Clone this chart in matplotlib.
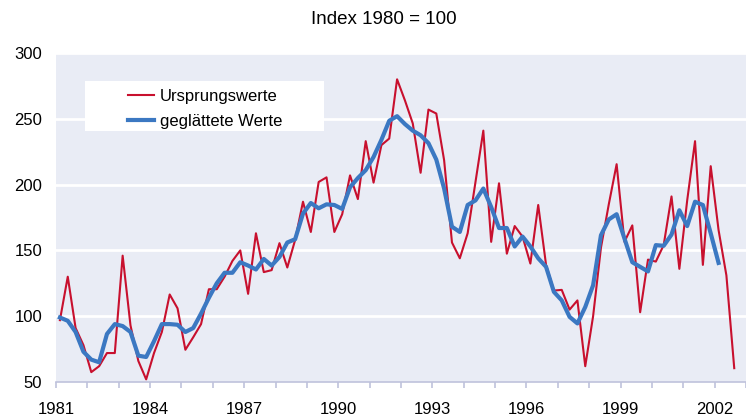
import numpy as np
import matplotlib
matplotlib.use("Agg")
import matplotlib.pyplot as plt
from matplotlib.patches import Rectangle
from matplotlib.ticker import MultipleLocator

plt.rcParams['font.family'] = ['Liberation Sans', 'DejaVu Sans']

# quarterly values, first quarter 1981 onwards
ursprung = [97, 130, 91, 78, 57.5, 62, 72, 72, 146, 93, 66, 52,
            72, 88, 116.5, 106, 74.5, 84, 94, 120.5, 120.5, 130, 142, 150,
            117, 163, 133.5, 135, 155.5, 137, 158, 187, 164, 202, 205.5, 164,
            177.5, 207, 189, 233, 201.5, 230, 235, 280, 264, 246.5, 209, 257,
            254, 218.5, 156, 144, 163, 202, 241, 156.5, 201, 147.5, 168.5, 160.5,
            140, 184.5, 139, 119.5, 120, 105, 112, 62, 100, 152, 185, 215.5,
            156.5, 169, 103, 143, 141.5, 154, 191, 136, 188, 233, 139, 214,
            165.5, 131, 60.5]
geglaettet = [99, 96.5, 88, 73, 67, 65, 86.5, 94, 92.5, 88, 70, 69,
              81, 94, 94, 93.5, 88, 91, 102, 114, 125, 133, 133, 141,
              138.5, 135.5, 143.5, 138.5, 145, 156, 158.5, 178, 186, 182, 185, 184.5,
              181.5, 198, 205, 211, 221, 234, 248.5, 252, 246, 241, 237.5, 231.5,
              219, 197, 168, 164, 184.5, 188, 197, 183, 167, 167, 153, 160.5,
              153, 144, 137.5, 118.5, 112, 99.5, 94.5, 107, 123.5, 161.5, 173.5, 177.5,
              159, 141, 137.5, 134, 154, 153.5, 162, 180.5, 168.5, 187, 184.5, 163,
              140.5]
start_year = 1981
year_labels = list(range(1981, 2003, 3))
y_ticks = [50, 100, 150, 200, 250, 300]

# points sit in the middle of each quarter
x_red = start_year + 0.125 + 0.25 * np.arange(len(ursprung))
x_blue = start_year + 0.125 + 0.25 * np.arange(len(geglaettet))

fig = plt.figure(figsize=(7.46, 4.19), dpi=100)
ax = fig.add_axes([56 / 746, 1 - 382 / 419, 690 / 746, 329 / 419])
ax.set_facecolor('#E9ECF5')

ax.set_xlim(1981, 2003)
ax.set_ylim(50, 300)
ax.set_yticks(y_ticks)
for v in y_ticks[1:]:
    ax.axhline(v, color='white', lw=2.0, zorder=1)

ax.plot(x_red, ursprung, color='#C8102E', lw=1.5, zorder=3, label='Ursprungswerte')
ax.plot(x_blue, geglaettet, color='#3B78C2', lw=3.0, zorder=4,
        solid_joinstyle='round', label='geglättete Werte')

for s in ['top', 'right', 'left']:
    ax.spines[s].set_visible(False)
ax.spines['bottom'].set_color('#BFC2DC')
ax.spines['bottom'].set_linewidth(1.2)

ax.set_xticks(year_labels)
ax.set_xticklabels([str(y) for y in year_labels])
ax.xaxis.set_minor_locator(MultipleLocator(1))
ax.tick_params(axis='x', which='both', length=4.5, width=1.2, color='#BFC2DC',
               pad=10, labelsize=12)
ax.tick_params(axis='y', length=0, pad=10, labelsize=12)

# legend with a white box behind it
ax.add_patch(Rectangle(((85 - 56) / 690, (382 - 131) / 329), 239 / 690, 50 / 329,
                       transform=ax.transAxes, facecolor='white', edgecolor='none',
                       zorder=5))
leg = ax.legend(loc='upper left', bbox_to_anchor=((128 - 56) / 690, (382 - 88.5) / 329),
                frameon=False, fontsize=12, handlelength=1.55, handletextpad=0.35,
                labelspacing=0.6, borderpad=0, borderaxespad=0)
leg.set_zorder(6)

fig.text(384 / 746, 1 - 19 / 419, 'Index 1980 = 100', ha='center', va='center',
         fontsize=13.5)

fig.savefig('out.png', dpi=100)
